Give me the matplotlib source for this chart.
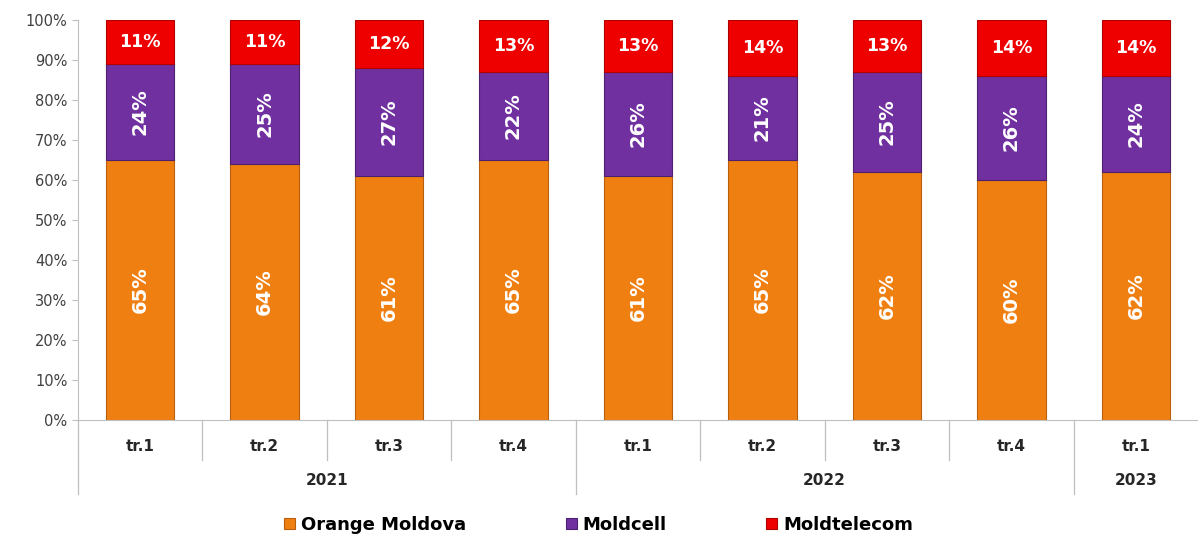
import matplotlib.pyplot as plt
import numpy as np

quarters = ['tr.1', 'tr.2', 'tr.3', 'tr.4', 'tr.1', 'tr.2', 'tr.3', 'tr.4', 'tr.1']
years = ['2021', '2022', '2023']
year_counts = [4, 4, 1]
orange = [65, 64, 61, 65, 61, 65, 62, 60, 62]
moldcell = [24, 25, 27, 22, 26, 21, 25, 26, 24]
moldtelecom = [11, 11, 12, 13, 13, 14, 13, 14, 14]
series_names = ['Orange Moldova', 'Moldcell', 'Moldtelecom']
colors = ['#F07F12', '#7030A0', '#EE0000']
edges = ['#B85E0E', '#4E2070', '#B00000']

fig = plt.figure(figsize=(11.98, 5.38), dpi=100)
ax = fig.add_axes([0.065, 0.2193, 0.935, 0.7435])

x = np.arange(len(quarters))
bottom = np.zeros(len(quarters))
bars = []
for vals, c, ec, name in zip([orange, moldcell, moldtelecom], colors, edges, series_names):
    vals = np.array(vals, dtype=float)
    b = ax.bar(x, vals, 0.55, bottom=bottom, color=c, edgecolor=ec, linewidth=0.8, label=name)
    bars.append(b)
    for xi, v, b0 in zip(x, vals, bottom):
        rot = 0 if name == 'Moldtelecom' else 90
        fs = 12.5 if name == 'Moldtelecom' else 14
        ax.text(xi, b0 + v / 2, f'{int(v)}%', ha='center', va='center', rotation=rot,
                color='white', fontsize=fs, fontweight='bold')
    bottom += vals

ax.set_xlim(-0.5, len(quarters) - 0.5)
ax.set_ylim(0, 100)
ax.set_yticks(np.arange(0, 101, 10))
ax.set_yticklabels([f'{v}%' for v in range(0, 101, 10)], color='#404040', fontsize=10.5)
ax.tick_params(axis='y', length=4, color='#BFBFBF')
ax.set_xticks([])
for s in ['top', 'right']:
    ax.spines[s].set_visible(False)
ax.spines['left'].set_color('#BFBFBF')
ax.spines['bottom'].set_color('#BFBFBF')

# quarter labels
for xi, q in zip(x, quarters):
    ax.text(xi, -6.7, q, ha='center', va='center', fontsize=11, fontweight='bold', color='#262626')

# separators
year_bounds = np.cumsum([0] + year_counts) - 0.5
for i in range(len(quarters) + 1):
    xb = i - 0.5
    ylow = -18.5 if xb in year_bounds else -10
    if xb in year_bounds and xb == len(quarters) - 0.5:
        continue
    ax.plot([xb, xb], [0, ylow], color='#BFBFBF', lw=0.9, clip_on=False)

start = 0
for yname, cnt in zip(years, year_counts):
    ax.text(start + cnt / 2 - 0.5, -15, yname, ha='center', va='center', fontsize=11,
            fontweight='bold', color='#262626')
    start += cnt

ax.legend(handles=bars, loc='lower center', bbox_to_anchor=(0.5 - 0.035, -0.325), ncol=3, frameon=False,
          handlelength=0.6, handleheight=0.6, handletextpad=0.35, columnspacing=5.5,
          prop={'weight': 'bold', 'size': 13})

fig.savefig('out.png', dpi=100)
